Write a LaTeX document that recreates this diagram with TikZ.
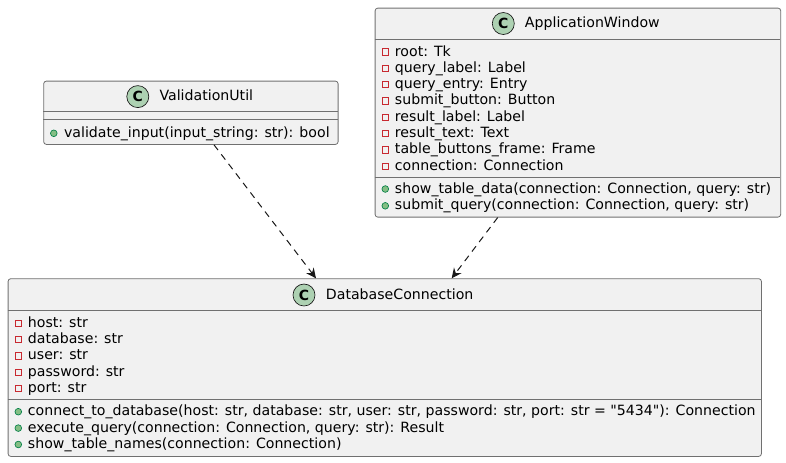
\documentclass[tikz,border=0pt]{standalone}
\usepackage{fontspec}
\setmainfont{DejaVu Sans}
\usetikzlibrary{arrows.meta,calc}
\definecolor{boxfill}{HTML}{F1F1F1}
\definecolor{boxline}{HTML}{181818}
\definecolor{edgegray}{HTML}{707070}
\definecolor{circfill}{HTML}{ADD1B2}
\definecolor{privred}{HTML}{C82930}
\definecolor{pubfill}{HTML}{84BE84}
\definecolor{publine}{HTML}{038048}
\def\px{0.75pt}
\begin{document}
\begin{tikzpicture}[x=0.75pt,y=-0.75pt,
 classbox/.style={draw=edgegray, fill=boxfill, line width=0.6pt, rounded corners=2pt, inner sep=0pt, anchor=north west},
 sepline/.style={draw=edgegray, line width=0.6pt},
 txt/.style={anchor=base west, inner sep=0pt, font=\fontsize{10.6pt}{12pt}\selectfont},
 cicon/.style={circle, draw=boxline, fill=circfill, line width=0.5pt, minimum size=16.5pt, inner sep=0pt, font=\fontsize{10.5pt}{12pt}\selectfont\bfseries},
 privmark/.style={rectangle, draw=privred, line width=0.6pt, minimum size=4.8pt, inner sep=0pt},
 pubmark/.style={circle, draw=publine, fill=pubfill, line width=0.5pt, minimum size=5pt, inner sep=0pt},
 dep/.style={draw=boxline, line width=0.75pt, dash pattern=on 5pt off 4pt, -{Stealth[length=7.5pt,width=7pt,inset=2.5pt]}}
]
\useasboundingbox (0,0) rectangle (786,462);

% ValidationUtil
\node[classbox, minimum width=294.4*\px, minimum height=63.3*\px] (vu) at (43.3,80.7) {};
\draw[sepline] (43.3,111.3) -- (337.7,111.3);
\draw[sepline] (43.3,119.7) -- (337.7,119.7);
\node[cicon] (vu-icon) at (137.8,96.6) {C};
\node[txt] (vu-title) at (159.3,100.7) {ValidationUtil};
\node[pubmark] (vu-m1-mark) at (53.8,133.3) {};
\node[txt] (vu-m1) at (63.8,137.3) {validate\_input(input\_string: str): bool};

% ApplicationWindow
\node[classbox, minimum width=405.6*\px, minimum height=209*\px] (aw) at (374.7,7.7) {};
\draw[sepline] (374.7,39.3) -- (780.3,39.3);
\draw[sepline] (374.7,177.3) -- (780.3,177.3);
\node[cicon] (aw-icon) at (503.3,23.5) {C};
\node[txt] (aw-title) at (524.7,27.7) {ApplicationWindow};
\foreach \t [count=\i] in {{root: Tk},{query\_label: Label},{query\_entry: Entry},{submit\_button: Button},{result\_label: Label},{result\_text: Text},{table\_buttons\_frame: Frame},{connection: Connection}}{
  \node[privmark] (aw-f\i-mark) at (385.3,{52+(\i-1)*16.3}) {};
  \node[txt] (aw-f\i) at (394.7,{56+(\i-1)*16.3}) {\t};
}
\foreach \t [count=\i] in {{show\_table\_data(connection: Connection, query: str)},{submit\_query(connection: Connection, query: str)}}{
  \node[pubmark] (aw-m\i-mark) at (385.3,{189+(\i-1)*16.8}) {};
  \node[txt] (aw-m\i) at (394.7,{193+(\i-1)*16.8}) {\t};
}

% DatabaseConnection
\node[classbox, minimum width=753.3*\px, minimum height=177.7*\px] (db) at (7.7,278.3) {};
\draw[sepline] (7.7,310) -- (761,310);
\draw[sepline] (7.7,399.3) -- (761,399.3);
\node[cicon] (db-icon) at (304,295) {C};
\node[txt] (db-title) at (325.7,299) {DatabaseConnection};
\foreach \t [count=\i] in {{host: str},{database: str},{user: str},{password: str},{port: str}}{
  \node[privmark] (db-f\i-mark) at (18.3,{323.3+(\i-1)*16.3}) {};
  \node[txt] (db-f\i) at (27.7,{327.3+(\i-1)*16.3}) {\t};
}
\foreach \t [count=\i] in {{connect\_to\_database(host: str, database: str, user: str, password: str, port: str = \textquotedbl 5434\textquotedbl): Connection},{execute\_query(connection: Connection, query: str): Result},{show\_table\_names(connection: Connection)}}{
  \node[pubmark] (db-m\i-mark) at (18.3,{411.7+(\i-1)*16.4}) {};
  \node[txt] (db-m\i) at (27.7,{415.7+(\i-1)*16.4}) {\t};
}

% dependencies
\draw[dep] ($(vu.south west)+(170.7,0)$) -- ($(db.north west)+(308.3,0)$);
\draw[dep] ($(aw.south west)+(123,0)$) -- ($(db.north west)+(444,0)$);
\end{tikzpicture}
\end{document}
